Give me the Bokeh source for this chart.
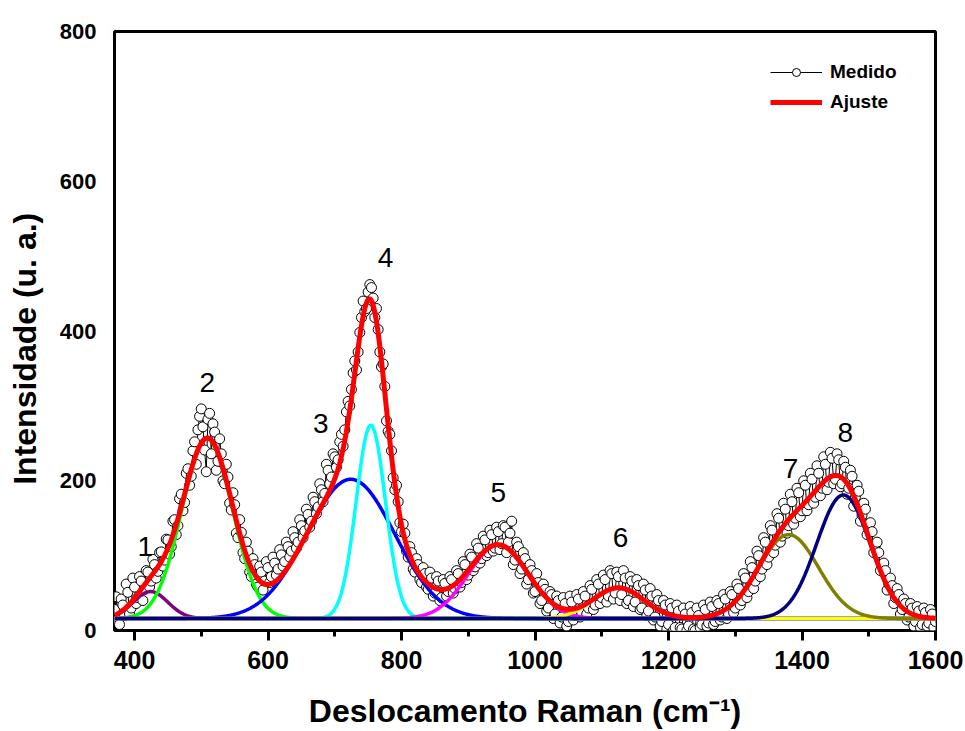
import numpy as np
from bokeh.plotting import figure
from bokeh.models import Range1d, FixedTicker, Legend, LegendItem
from bokeh.core.properties import value
from bokeh.embed import file_html
from bokeh.resources import INLINE

# Measured Raman spectrum: two interleaved sweeps, 5 cm-1 apart each
shift_a = np.arange(370.0, 1600.1, 5.0)      # 370, 375, ..., 1600
shift_b = np.arange(372.5, 1600.0, 5.0)      # 372.5, 377.5, ..., 1597.5
intensity_a = [
    28, 14, 42, 20, 51, 30, 58, 44, 66, 55,            # 370-415
    78, 66, 88, 79, 105, 94, 121, 112, 148, 140,       # 420-465
    182, 171, 216, 206, 252, 268, 296, 241, 282, 236,  # 470-515
    265, 226, 236, 196, 205, 161, 168, 124, 131, 96,   # 520-565
    106, 72, 88, 58, 78, 66, 84, 72, 90, 82,           # 570-615
    101, 92, 112, 106, 124, 118, 140, 133, 155, 146,   # 620-665
    172, 165, 188, 183, 214, 205, 232, 228, 262, 268,  # 670-715
    306, 322, 360, 372, 418, 426, 452, 458, 418, 402,  # 720-765
    352, 326, 266, 240, 188, 172, 132, 130, 98, 104,   # 770-815
    78, 88, 64, 76, 55, 70, 50, 66, 44, 63,            # 820-865
    52, 68, 56, 76, 64, 88, 74, 98, 85, 110,           # 870-915
    96, 121, 104, 128, 110, 132, 116, 138, 118, 146,   # 920-965
    94, 112, 82, 96, 68, 80, 52, 64, 40, 55,           # 970-1015
    30, 48, 22, 40, 18, 36, 12, 38, 20, 42,            # 1020-1065
    24, 46, 30, 55, 34, 62, 44, 68, 46, 76,            # 1070-1115
    50, 72, 48, 70, 40, 66, 38, 60, 30, 54,            # 1120-1165
    26, 46, 18, 40, 12, 34, 8, 30, 4, 26,              # 1170-1215
    2, 22, 6, 24, 0, 20, 8, 28, 10, 32,                # 1220-1265
    12, 36, 18, 42, 22, 48, 30, 56, 40, 70,            # 1270-1315
    52, 84, 66, 100, 82, 118, 98, 134, 114, 150,       # 1320-1365
    126, 162, 140, 172, 150, 184, 160, 194, 168, 202,  # 1370-1415
    178, 210, 190, 222, 198, 230, 202, 228, 196, 218,  # 1420-1465
    190, 206, 178, 186, 154, 162, 140, 132, 114, 104,  # 1470-1515
    86, 80, 62, 60, 44, 48, 28, 36, 18, 30,            # 1520-1565
    12, 26, 8, 24, 10, 22, 12,                         # 1570-1600
]
intensity_b = [
    45, 8, 34, 62, 22, 70, 36, 72, 40, 80,             # 372.5-417.5
    58, 95, 70, 104, 86, 122, 102, 146, 128, 176,      # 422.5-467.5
    160, 210, 194, 240, 222, 286, 272, 212, 290, 276,  # 472.5-517.5
    214, 256, 200, 222, 170, 184, 130, 148, 104, 118,  # 522.5-567.5
    78, 96, 62, 86, 54, 92, 64, 98, 74, 108,           # 572.5-617.5
    86, 118, 98, 132, 110, 148, 124, 162, 138, 178,    # 622.5-667.5
    156, 196, 172, 222, 196, 236, 218, 252, 246, 292,  # 672.5-717.5
    300, 344, 348, 398, 440, 430, 462, 444, 430, 372,  # 722.5-767.5
    356, 280, 262, 204, 194, 144, 142, 106, 112, 82,   # 772.5-817.5
    96, 68, 84, 58, 78, 46, 72, 40, 68, 46,            # 822.5-867.5
    72, 50, 80, 58, 92, 68, 102, 80, 116, 90,          # 872.5-917.5
    126, 100, 134, 106, 138, 108, 140, 104, 130, 88,   # 922.5-967.5
    118, 76, 104, 62, 88, 50, 76, 36, 62, 26,          # 972.5-1017.5
    52, 16, 46, 10, 44, 6, 46, 14, 48, 18,             # 1022.5-1067.5
    52, 22, 60, 28, 68, 36, 74, 38, 80, 42,            # 1072.5-1117.5
    78, 40, 80, 36, 72, 32, 68, 28, 62, 20,            # 1122.5-1167.5
    56, 14, 48, 6, 40, 2, 36, 0, 34, 4,                # 1172.5-1217.5
    30, 0, 32, 2, 30, 4, 34, 6, 38, 8,                 # 1222.5-1267.5
    40, 14, 48, 16, 52, 24, 62, 34, 76, 44,            # 1272.5-1317.5
    92, 56, 106, 72, 124, 88, 140, 104, 156, 118,      # 1322.5-1367.5
    170, 130, 182, 142, 190, 152, 200, 160, 210, 170,  # 1372.5-1417.5
    220, 180, 232, 188, 238, 196, 236, 192, 226, 182,  # 1422.5-1467.5
    214, 166, 194, 146, 170, 128, 144, 104, 118, 80,   # 1472.5-1517.5
    90, 54, 70, 36, 56, 22, 42, 14, 36, 6,             # 1522.5-1567.5
    32, 4, 30, 6, 28, 4,                               # 1572.5-1597.5
]

# Gaussian band parameters of the fit (center, height above baseline, sigma)
peak_ids = ["1", "2", "3", "4", "5", "6", "7", "8"]
peak_centers = [424, 509, 724, 754, 945, 1125, 1380, 1462]
peak_heights = [36, 240, 186, 258, 98, 41, 112, 165]
peak_sigmas = [26, 38, 66, 22, 45, 38, 45, 40]
baseline = 16

peak_colors = ["#800080", "#00ff00", "#0000ff", "#00ffff",
               "#ff00ff", "#ffff00", "#808000", "#000080"]

# where the band numbers are written
label_x = [416, 509, 679, 776, 945, 1128, 1383, 1465]
label_y = [112, 331, 276, 498, 184, 124, 216, 264]

x_ticks = [400, 600, 800, 1000, 1200, 1400, 1600]
x_minor = [500, 700, 900, 1100, 1300, 1500]
y_ticks = [0, 200, 400, 600, 800]

FONT = "Liberation Sans"

# merge both sweeps in order of Raman shift for the connecting line
order = np.argsort(np.concatenate([shift_a, shift_b]), kind="stable")
shift_all = np.concatenate([shift_a, shift_b])[order]
intensity_all = np.concatenate([intensity_a, intensity_b])[order]

p = figure(width=965, height=731, output_backend="svg", toolbar_location=None,
           x_range=Range1d(370, 1600), y_range=Range1d(0, 800),
           min_border_left=114, min_border_right=30,
           min_border_top=31, min_border_bottom=101)
p.background_fill_color = "white"
p.border_fill_color = "white"
p.outline_line_color = "black"
p.outline_line_width = 3
p.outline_line_alpha = 1.0
p.grid.visible = False

xa = p.xaxis[0]
xa.ticker = FixedTicker(ticks=x_ticks, minor_ticks=x_minor)
xa.axis_line_color = None
xa.major_tick_in = 0
xa.major_tick_out = 10
xa.minor_tick_in = 0
xa.minor_tick_out = 6
xa.major_tick_line_width = 3
xa.minor_tick_line_width = 3
xa.major_tick_line_color = "black"
xa.minor_tick_line_color = "black"
xa.major_label_text_font = FONT
xa.major_label_text_font_style = "bold"
xa.major_label_text_font_size = "25px"
xa.major_label_text_color = "black"
xa.major_label_standoff = 10
xa.axis_label = "Deslocamento Raman (cm\u207b\u00b9)"
xa.axis_label_text_font = FONT
xa.axis_label_text_font_style = "bold"
xa.axis_label_text_font_size = "32px"
xa.axis_label_text_color = "black"
xa.axis_label_standoff = 21

ya = p.yaxis[0]
ya.ticker = FixedTicker(ticks=y_ticks, minor_ticks=[])
ya.axis_line_color = None
ya.major_tick_in = 0
ya.major_tick_out = 0
ya.minor_tick_in = 0
ya.minor_tick_out = 0
ya.major_label_text_font = FONT
ya.major_label_text_font_style = "bold"
ya.major_label_text_font_size = "22px"
ya.major_label_text_color = "black"
ya.major_label_standoff = 18
# trailing no-break spaces push the rotated title a little lower
ya.axis_label = "Intensidade (u. a.)" + "\u00a0" * 4
ya.axis_label_text_font = FONT
ya.axis_label_text_font_style = "bold"
ya.axis_label_text_font_size = "32px"
ya.axis_label_text_color = "black"
ya.axis_label_standoff = 14

# measured points: thin connecting line plus open circles
data_line = p.line(shift_all, intensity_all, line_color="black", line_width=1)
data_pts = p.scatter(shift_all, intensity_all, marker="circle", size=10,
                     line_color="black", line_width=1, fill_color="white")

# individual bands and their sum
xs = np.linspace(370, 1600, 1231)
total = np.full_like(xs, float(baseline))
for c, h, s, col in zip(peak_centers, peak_heights, peak_sigmas, peak_colors):
    band = h * np.exp(-((xs - c) ** 2) / (2.0 * s ** 2))
    total += band
    p.line(xs, baseline + band, line_color=col, line_width=3.5)

fit_line = p.line(xs, total, line_color="#ff0000", line_width=5)

p.text(x=label_x, y=label_y, text=peak_ids, text_font=value(FONT),
       text_font_size="28px", text_align="center", text_baseline="middle",
       text_color="black")

legend = Legend(items=[LegendItem(label="Medido", renderers=[data_line, data_pts]),
                       LegendItem(label="Ajuste", renderers=[fit_line])],
                location=(656, 517), orientation="vertical")
legend.border_line_color = None
legend.background_fill_alpha = 0
legend.padding = 0
legend.margin = 0
legend.spacing = 8
legend.glyph_width = 52
legend.glyph_height = 20
legend.label_height = 20
legend.label_standoff = 8
legend.label_text_font = FONT
legend.label_text_font_style = "bold"
legend.label_text_font_size = "19px"
legend.label_text_color = "black"
p.add_layout(legend)

open("out.html", "w").write(file_html(p, INLINE))
